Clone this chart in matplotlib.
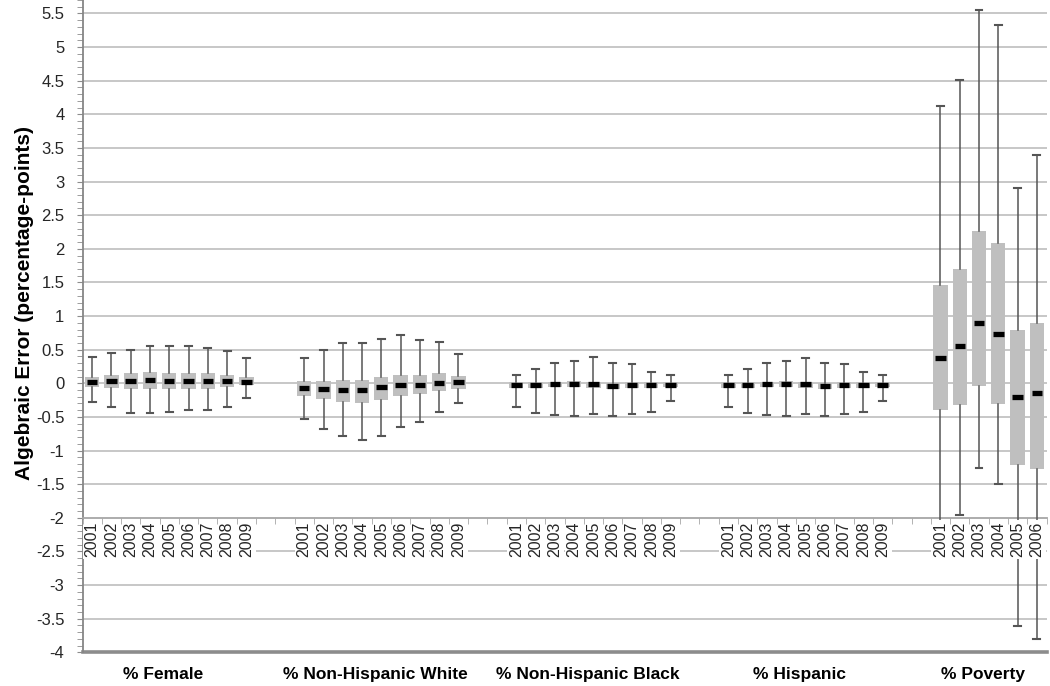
import numpy as np
import matplotlib.pyplot as plt

plt.rcParams['font.family'] = ['Liberation Sans', 'DejaVu Sans']

years = ['2001', '2002', '2003', '2004', '2005', '2006', '2007', '2008', '2009']
pov_years = years[:6]
groups = ['% Female', '% Non-Hispanic White', '% Non-Hispanic Black', '% Hispanic', '% Poverty']

# whisker low, q1, median, q3, whisker high for each year
female_lo = [-0.28, -0.35, -0.44, -0.44, -0.42, -0.40, -0.40, -0.35, -0.22]
female_q1 = [-0.05, -0.07, -0.09, -0.09, -0.09, -0.08, -0.08, -0.06, -0.03]
female_med = [0.02, 0.03, 0.04, 0.05, 0.04, 0.04, 0.03, 0.03, 0.02]
female_q3 = [0.09, 0.13, 0.15, 0.17, 0.16, 0.16, 0.15, 0.13, 0.10]
female_hi = [0.39, 0.45, 0.49, 0.56, 0.56, 0.56, 0.53, 0.48, 0.38]

nhw_lo = [-0.53, -0.68, -0.78, -0.85, -0.78, -0.65, -0.58, -0.43, -0.30]
nhw_q1 = [-0.19, -0.23, -0.28, -0.29, -0.25, -0.19, -0.16, -0.11, -0.08]
nhw_med = [-0.07, -0.08, -0.10, -0.10, -0.06, -0.02, -0.02, 0.00, 0.02]
nhw_q3 = [0.04, 0.04, 0.05, 0.05, 0.09, 0.13, 0.13, 0.15, 0.11]
nhw_hi = [0.38, 0.49, 0.60, 0.60, 0.66, 0.72, 0.64, 0.61, 0.44]

nhb_lo = [-0.35, -0.44, -0.47, -0.48, -0.46, -0.48, -0.45, -0.42, -0.27]
nhb_q1 = [-0.07, -0.07, -0.06, -0.06, -0.065, -0.08, -0.07, -0.07, -0.06]
nhb_med = [-0.025, -0.02, -0.01, -0.005, -0.015, -0.035, -0.02, -0.02, -0.02]
nhb_q3 = [0.015, 0.02, 0.025, 0.03, 0.02, 0.01, 0.02, 0.02, 0.015]
nhb_hi = [0.13, 0.22, 0.30, 0.33, 0.39, 0.30, 0.28, 0.17, 0.13]

hisp_lo = [-0.35, -0.44, -0.47, -0.49, -0.46, -0.49, -0.45, -0.43, -0.27]
hisp_q1 = [-0.07, -0.07, -0.06, -0.06, -0.065, -0.08, -0.07, -0.07, -0.06]
hisp_med = [-0.025, -0.02, -0.01, -0.005, -0.015, -0.035, -0.02, -0.02, -0.02]
hisp_q3 = [0.015, 0.02, 0.025, 0.03, 0.02, 0.01, 0.02, 0.02, 0.015]
hisp_hi = [0.13, 0.22, 0.30, 0.33, 0.38, 0.30, 0.28, 0.17, 0.13]

pov_lo = [-2.4, -1.96, -1.26, -1.50, -3.61, -3.80]
pov_q1 = [-0.40, -0.32, -0.04, -0.31, -1.22, -1.27]
pov_med = [0.38, 0.56, 0.90, 0.74, -0.21, -0.15]
pov_q3 = [1.46, 1.70, 2.27, 2.09, 0.79, 0.90]
pov_hi = [4.13, 4.51, 5.55, 5.33, 2.90, 3.39]

series = [
    (years, female_lo, female_q1, female_med, female_q3, female_hi),
    (years, nhw_lo, nhw_q1, nhw_med, nhw_q3, nhw_hi),
    (years, nhb_lo, nhb_q1, nhb_med, nhb_q3, nhb_hi),
    (years, hisp_lo, hisp_q1, hisp_med, hisp_q3, hisp_hi),
    (pov_years, pov_lo, pov_q1, pov_med, pov_q3, pov_hi),
]

stats, pos, labels, meds, centers = [], [], [], [], []
x = 0
for yrs, lo, q1, med, q3, hi in series:
    start = x
    for k in range(len(yrs)):
        stats.append(dict(whislo=lo[k], q1=q1[k], med=med[k], q3=q3[k], whishi=hi[k]))
        pos.append(x)
        labels.append(yrs[k])
        meds.append(med[k])
        x += 1
    centers.append((start + x - 1) / 2)
    x += 2  # two empty slots between groups
pos = np.array(pos)
nslots = pos[-1] + 1

fig = plt.figure(figsize=(10.5, 6.86), dpi=100)
ax = fig.add_axes([82.5 / 1050, 33.7 / 686, 964 / 1050, 652.3 / 686])

# gridlines
for v in np.arange(-4, 5.51, 0.5):
    if v in (-2, -4):
        continue
    ax.axhline(v, color='#c3c3c3', lw=1.3, zorder=0)
ax.axhline(-4, color='#8c8c8c', lw=2.6, zorder=2, clip_on=False)

ax.bxp(stats, positions=pos, widths=0.74, patch_artist=True, showfliers=False,
       boxprops=dict(facecolor='#bfbfbf', edgecolor='#bfbfbf', linewidth=0),
       whiskerprops=dict(color='#555555', linewidth=1.1),
       capprops=dict(color='#555555', linewidth=1.5),
       medianprops=dict(visible=False), capwidths=0.36, zorder=3)
ax.hlines(meds, pos - 0.27, pos + 0.27, colors='black', linewidth=3.8, zorder=4)

ax.set_xlim(-0.5, nslots - 0.5)
ax.set_ylim(-4, 5.7)

ax.spines['top'].set_visible(False)
ax.spines['right'].set_visible(False)
ax.spines['bottom'].set_position(('data', -2))
ax.spines['bottom'].set_color('#a6a6a6')
ax.spines['bottom'].set_linewidth(1.3)
ax.spines['left'].set_color('#868686')
ax.spines['left'].set_linewidth(1.3)

ax.set_xticks(pos, labels, rotation=90, fontsize=11.5)
ax.set_xticks(np.arange(-0.5, nslots, 1), minor=True)
ax.tick_params(axis='x', which='major', length=0, pad=3, labelcolor='#262626')
ax.tick_params(axis='x', which='minor', length=4, direction='out', color='#a6a6a6')
for t in ax.get_xticklabels():
    t.set_bbox(dict(facecolor='white', edgecolor='none', pad=1.5))
ax.xaxis.set_zorder(5)

yt = np.arange(-4, 5.51, 0.5)
ax.set_yticks(yt, [f'{t:g}' for t in yt])
ax.set_yticks(np.arange(-4, 5.71, 0.1), minor=True)
ax.tick_params(axis='y', which='both', length=4, direction='out', color='#8c8c8c')
ax.tick_params(axis='y', which='major', labelsize=12, pad=9, labelcolor='#262626')

ax.set_ylabel('Algebraic Error (percentage-points)', fontsize=15, fontweight='bold', va='center')
ax.yaxis.set_label_coords(-0.0597, 0.535)

for c, name in zip(centers, groups):
    ax.text(c - 0.3, -4.33, name, ha='center', va='center', fontsize=12.5,
            fontweight='bold', clip_on=False)

fig.savefig('out.png', dpi=100)
